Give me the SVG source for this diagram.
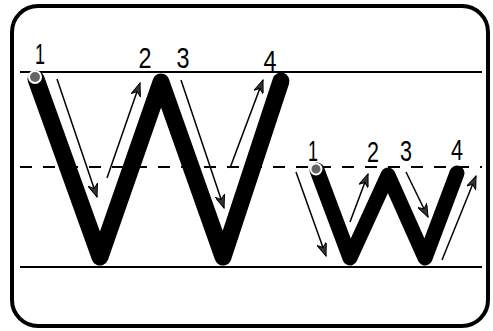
<svg xmlns="http://www.w3.org/2000/svg" width="493" height="331" viewBox="0 0 493 331">
<defs>
<marker id="ah" markerUnits="userSpaceOnUse" markerWidth="14" markerHeight="10" refX="13" refY="5" orient="auto">
<path d="M0,0 L13,5 L0,10 L4,5 Z" fill="#333" stroke="#000" stroke-width="1"/>
</marker>
</defs>
<style>
.guide{stroke:#000;stroke-width:2;fill:none}
.dash{stroke-dasharray:12 11}
.letter{stroke:#000;fill:none;stroke-linecap:round;stroke-linejoin:round}
.arrow{stroke:#000;stroke-width:1.5;fill:none;marker-end:url(#ah)}
.lbl{font-family:"Liberation Sans",Arial,sans-serif;font-size:29px;fill:#000;text-anchor:middle}
.dot{fill:#666;stroke:#fff;stroke-width:2}
</style>
<rect x="12" y="6" width="476" height="320" rx="26" ry="26" fill="#fff" stroke="#000" stroke-width="4"/>
<g id="guides">
<line class="guide" x1="20" y1="72" x2="482" y2="72"/>
<line class="guide dash" x1="20" y1="167" x2="482" y2="167"/>
<line class="guide" x1="20" y1="267" x2="482" y2="267"/>
</g>
<g id="bigW">
<path class="letter" stroke-width="17" d="M36,79 L100,257 L161,82 L223,257 L281,81"/>
<circle class="dot" cx="35" cy="77" r="6"/>
</g>
<g id="smallW">
<path class="letter" stroke-width="15" d="M317,170 L350,258 L388,175 L425,258 L457,173"/>
<circle class="dot" cx="316" cy="169" r="5.5"/>
</g>
<g id="connectors">
<line class="arrow" x1="57" y1="79" x2="97" y2="197"/>
<line class="arrow" x1="107" y1="178" x2="140" y2="83"/>
<line class="arrow" x1="181" y1="80" x2="224" y2="208"/>
<line class="arrow" x1="230" y1="168" x2="263" y2="80"/>
<line class="arrow" x1="296" y1="172" x2="326" y2="256"/>
<line class="arrow" x1="350" y1="222" x2="368" y2="174"/>
<line class="arrow" x1="406" y1="172" x2="428" y2="217"/>
<line class="arrow" x1="442" y1="260" x2="476" y2="176"/>
</g>
<g id="labels">
<text class="lbl" x="40" y="64" textLength="10" lengthAdjust="spacingAndGlyphs">1</text>
<text class="lbl" x="145" y="68" textLength="13" lengthAdjust="spacingAndGlyphs">2</text>
<text class="lbl" x="183" y="68" textLength="13" lengthAdjust="spacingAndGlyphs">3</text>
<text class="lbl" x="270" y="71" textLength="13" lengthAdjust="spacingAndGlyphs">4</text>
<text class="lbl" x="313" y="161" textLength="10" lengthAdjust="spacingAndGlyphs">1</text>
<text class="lbl" x="373" y="162" textLength="12" lengthAdjust="spacingAndGlyphs">2</text>
<text class="lbl" x="406" y="161" textLength="12" lengthAdjust="spacingAndGlyphs">3</text>
<text class="lbl" x="457" y="160" textLength="12" lengthAdjust="spacingAndGlyphs">4</text>
</g>
</svg>
